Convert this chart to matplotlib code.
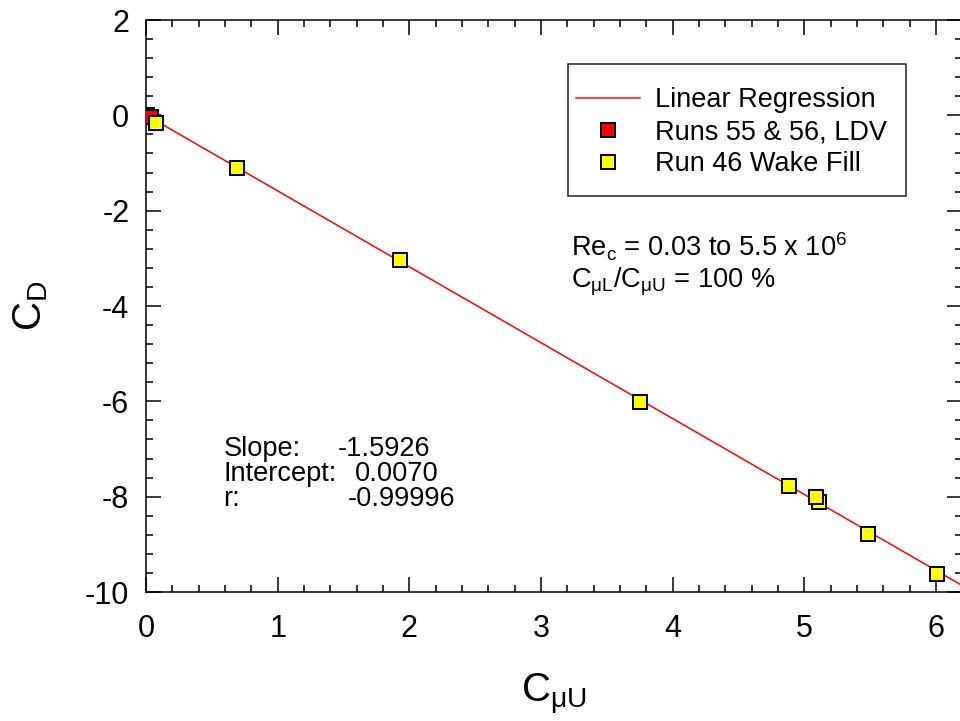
import matplotlib
matplotlib.use("Agg")
import matplotlib.pyplot as plt
from matplotlib.ticker import MultipleLocator
from matplotlib.patches import Rectangle
import numpy as np

plt.rcParams['font.family'] = ['Liberation Sans', 'DejaVu Sans']
plt.rcParams['mathtext.fontset'] = 'custom'
plt.rcParams['mathtext.rm'] = 'Liberation Sans'
plt.rcParams['mathtext.it'] = 'Liberation Sans'
plt.rcParams['axes.unicode_minus'] = False

# datos
ldv_x = [0.0, 0.005, 0.01, 0.035]
ldv_y = [0.0, 0.005, -0.01, -0.04]
wake_x = [0.075, 0.69, 1.93, 3.75, 4.88, 5.11, 5.09, 5.48, 6.01]
wake_y = [-0.16, -1.105, -3.04, -6.01, -7.77, -8.11, -8.01, -8.78, -9.62]

slope = -1.5926
intercept = 0.0070
fit_x = np.array([0.0, 6.3])

fig = plt.figure(figsize=(9.6, 7.21), dpi=100)
ax = fig.add_axes([146/960, 129/721, 816.5/960, 572/721])

ax.plot(fit_x, intercept + slope*fit_x, color='red', lw=1.1, zorder=2,
        label='Linear Regression')
ax.plot(ldv_x, ldv_y, 's', color='red', mec='black', mew=1.4, ms=9.5,
        zorder=3, label='Runs 55 & 56, LDV')
ax.plot(wake_x, wake_y, 's', color='yellow', mec='black', mew=1.4, ms=9.5,
        zorder=3, label='Run 46 Wake Fill')

ax.set_xlim(0, 6.2)
ax.set_ylim(-10, 2)
ax.xaxis.set_major_locator(MultipleLocator(1))
ax.xaxis.set_minor_locator(MultipleLocator(0.2))
ax.yaxis.set_major_locator(MultipleLocator(2))
ax.yaxis.set_minor_locator(MultipleLocator(0.4))
ax.tick_params(which='both', direction='in', top=True, right=True,
               labelsize=22, width=1.1)
ax.tick_params(axis='x', pad=15.5)
ax.tick_params(axis='y', pad=12)
ax.tick_params(which='major', length=11)
ax.tick_params(which='minor', length=5)
for s in ax.spines.values():
    s.set_linewidth(1.1)

ax.set_xlabel(r'$\mathregular{C_{μU}}$', fontsize=29)
ax.set_ylabel(r'$\mathregular{C_D}$', fontsize=29)
ax.xaxis.set_label_coords(0.5, -0.138)
ax.yaxis.set_label_coords(-0.117, 0.5)

leg = ax.legend(loc='upper left', bbox_to_anchor=(0.527, 0.882),
                frameon=False, fontsize=19.5, handlelength=2.35,
                handletextpad=0.55, labelspacing=0.22, borderaxespad=0,
                borderpad=0)
ax.add_patch(Rectangle((0.517, 0.692), 0.414, 0.231, transform=ax.transAxes,
                       fill=False, ec='#222222', lw=1.1, zorder=4))

ax.text(0.52, 0.632, r'$\mathregular{Re_c}$ = 0.03 to 5.5 x $\mathregular{10^6}$',
        transform=ax.transAxes, fontsize=19.6, va='top')
ax.text(0.52, 0.570, r'$\mathregular{C_{μL}/C_{μU}}$ = 100 %',
        transform=ax.transAxes, fontsize=19.6, va='top')

ax.text(0.095, 0.273, 'Slope:', transform=ax.transAxes, fontsize=19.6, va='top')
ax.text(0.095, 0.229, 'Intercept:', transform=ax.transAxes, fontsize=19.6, va='top')
ax.text(0.095, 0.185, 'r:', transform=ax.transAxes, fontsize=19.6, va='top')
ax.text(0.235, 0.273, '-1.5926', transform=ax.transAxes, fontsize=19.6, va='top')
ax.text(0.256, 0.229, '0.0070', transform=ax.transAxes, fontsize=19.6, va='top')
ax.text(0.247, 0.185, '-0.99996', transform=ax.transAxes, fontsize=19.6, va='top')

fig.savefig('out.png', dpi=100)
